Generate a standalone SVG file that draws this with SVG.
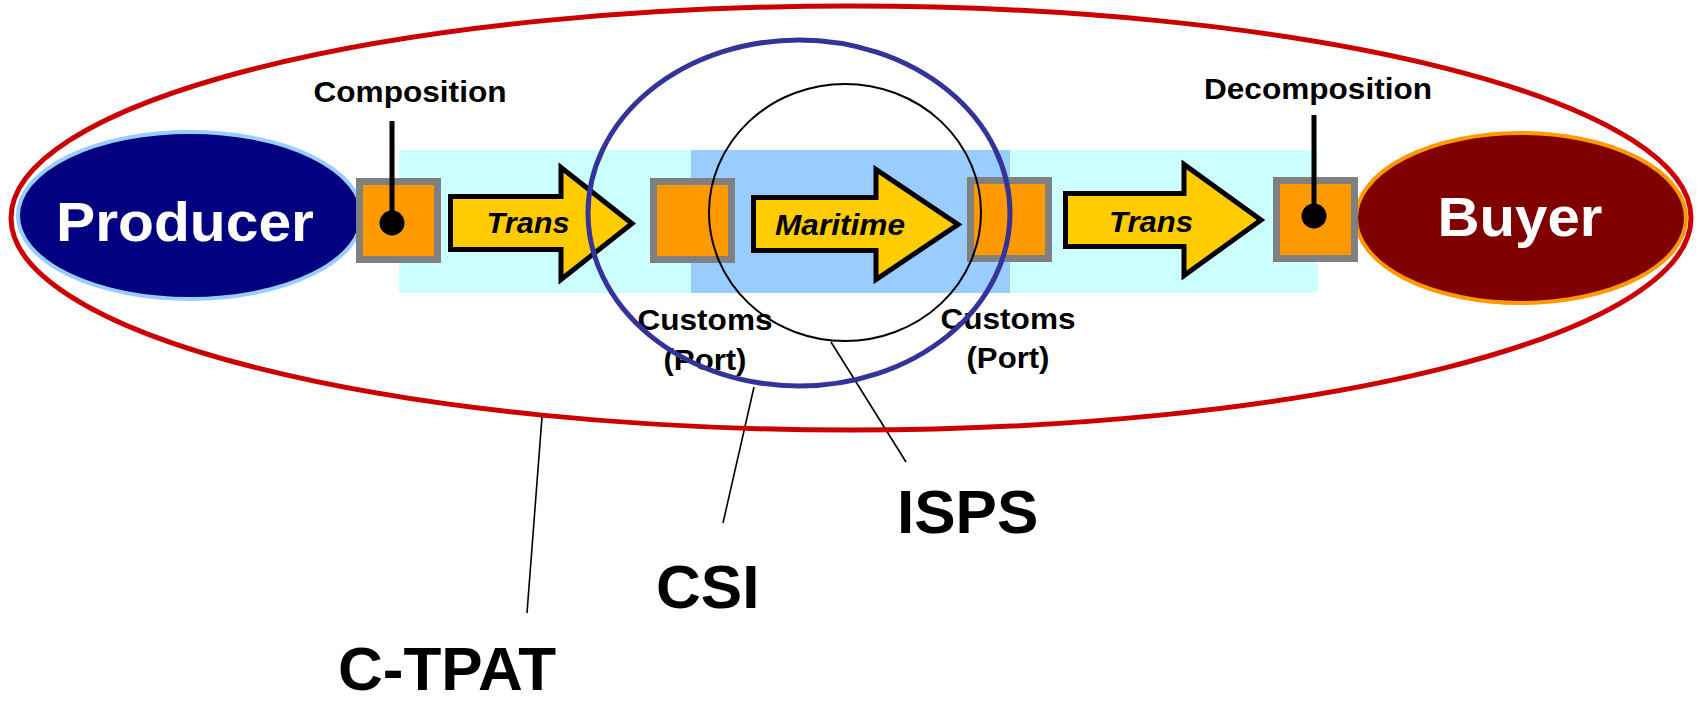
<svg xmlns="http://www.w3.org/2000/svg" width="1698" height="704" viewBox="0 0 1698 704">
  <style>
    .lbl { font-family: "Liberation Sans", Arial, sans-serif; font-weight: bold; fill: #000; text-anchor: middle; }
    .big { font-family: "Liberation Sans", Arial, sans-serif; font-weight: bold; fill: #000; font-size: 62px; }
    .node-txt { font-family: "Liberation Sans", Arial, sans-serif; font-weight: bold; fill: #fff; text-anchor: middle; font-size: 56px; }
    .arrow { fill: #FFCC00; stroke: #000; stroke-width: 5; stroke-linejoin: miter; }
    .arrow-txt { font-family: "Liberation Sans", Arial, sans-serif; font-weight: bold; font-style: italic; fill: #000; text-anchor: middle; font-size: 29px; }
    .box { fill: #FF9900; stroke: #808080; stroke-width: 7; }
    .leader { stroke: #000; stroke-width: 1.6; fill: none; }
    .pin { stroke: #000; stroke-width: 5; fill: none; }
  </style>

  <!-- transport corridor bands -->
  <g id="bands">
    <rect x="399" y="150" width="919" height="143" fill="#CCFFFF"/>
    <rect x="691" y="150" width="319" height="143" fill="#99CCFF"/>
  </g>

  <!-- end parties -->
  <g id="producer">
    <ellipse cx="190" cy="215.5" rx="172" ry="83.5" fill="#000080" stroke="#99CCFF" stroke-width="4"/>
    <text class="node-txt" x="185" y="241" textLength="258" lengthAdjust="spacingAndGlyphs">Producer</text>
  </g>
  <g id="buyer">
    <ellipse cx="1521" cy="218" rx="165" ry="85" fill="#800000" stroke="#FF9900" stroke-width="4"/>
    <text class="node-txt" x="1520" y="236" textLength="165" lengthAdjust="spacingAndGlyphs">Buyer</text>
  </g>

  <!-- handover points -->
  <g id="composition">
    <rect class="box" x="359.5" y="181.5" width="78" height="78"/>
    <line class="pin" x1="392" y1="121" x2="392" y2="220"/>
    <circle cx="392" cy="223" r="12.5" fill="#000"/>
    <text class="lbl" x="410" y="102" font-size="30" textLength="193" lengthAdjust="spacingAndGlyphs">Composition</text>
  </g>
  <g id="customs-export">
    <rect class="box" x="653.5" y="181.5" width="78" height="78"/>
    <text class="lbl" x="705" y="330" font-size="29" textLength="135" lengthAdjust="spacingAndGlyphs">Customs</text>
    <text class="lbl" x="705" y="370" font-size="29" textLength="83" lengthAdjust="spacingAndGlyphs">(Port)</text>
  </g>
  <g id="customs-import">
    <rect class="box" x="970.5" y="180.5" width="78" height="78"/>
    <text class="lbl" x="1008" y="329" font-size="29" textLength="135" lengthAdjust="spacingAndGlyphs">Customs</text>
    <text class="lbl" x="1008" y="368" font-size="29" textLength="83" lengthAdjust="spacingAndGlyphs">(Port)</text>
  </g>
  <g id="decomposition">
    <rect class="box" x="1276.5" y="180.5" width="78" height="78"/>
    <line class="pin" x1="1314" y1="115" x2="1314" y2="213"/>
    <circle cx="1314" cy="216" r="12.5" fill="#000"/>
    <text class="lbl" x="1318" y="99" font-size="30" textLength="228" lengthAdjust="spacingAndGlyphs">Decomposition</text>
  </g>

  <!-- transport legs -->
  <g id="connectors">
    <g id="trans-1">
      <path class="arrow" d="M450.5,196.5 H561 V167.5 L632,223.5 L561,279.5 V249.5 H450.5 Z"/>
      <text class="arrow-txt" x="528" y="233" textLength="83" lengthAdjust="spacingAndGlyphs">Trans</text>
    </g>
    <g id="maritime">
      <path class="arrow" d="M753.5,197.5 H876 V169.5 L958,224.5 L876,279.5 V250.5 H753.5 Z"/>
      <text class="arrow-txt" x="840" y="235" textLength="130" lengthAdjust="spacingAndGlyphs">Maritime</text>
    </g>
    <g id="trans-2">
      <path class="arrow" d="M1065.5,193.5 H1184 V164.5 L1261,220 L1184,275.5 V246.5 H1065.5 Z"/>
      <text class="arrow-txt" x="1151" y="232" textLength="84" lengthAdjust="spacingAndGlyphs">Trans</text>
    </g>
  </g>

  <!-- programme scopes -->
  <g id="isps">
    <ellipse cx="845" cy="212.5" rx="136" ry="128.5" fill="none" stroke="#000" stroke-width="2"/>
    <line class="leader" x1="831" y1="342" x2="906" y2="462"/>
    <text class="big" x="897" y="533">ISPS</text>
  </g>
  <g id="csi">
    <ellipse cx="799" cy="213" rx="211" ry="173" fill="none" stroke="#333399" stroke-width="5"/>
    <line class="leader" x1="754" y1="387" x2="723" y2="523"/>
    <text class="big" x="656" y="608">CSI</text>
  </g>
  <g id="c-tpat">
    <ellipse cx="851" cy="218" rx="840" ry="212" fill="none" stroke="#CC0000" stroke-width="5"/>
    <line class="leader" x1="542" y1="417" x2="527" y2="613"/>
    <text class="big" x="338" y="690">C-TPAT</text>
  </g>
</svg>
